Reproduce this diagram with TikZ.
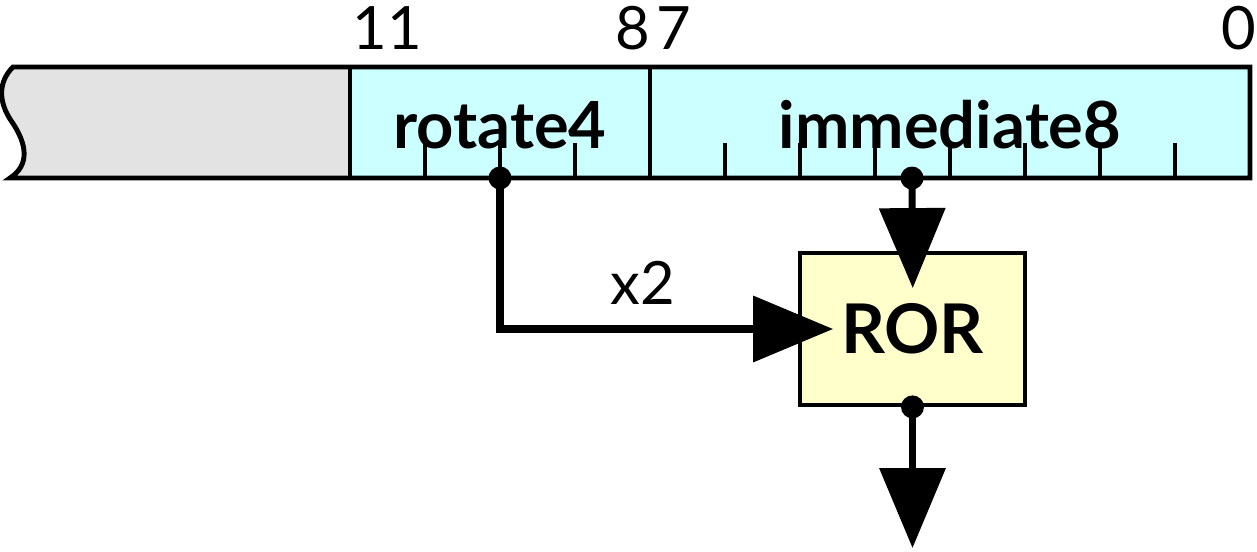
\documentclass[tikz,border=0pt]{standalone}
\usepackage{fontspec}
\setmainfont{Lato}
\usetikzlibrary{arrows.meta,positioning}
\definecolor{fieldcyan}{HTML}{CCFFFF}
\definecolor{restgray}{HTML}{E3E3E3}
\definecolor{opyellow}{HTML}{FFFFCC}
\tikzset{
  line cap=round,
  line join=round,
  outline/.style={line width=2.8pt},
  tick/.style={line width=2.2pt, line cap=butt},
  bitnum/.style={inner sep=0pt, font=\fontsize{34}{36}\selectfont},
  fieldname/.style={anchor=base, inner sep=0pt, font=\fontsize{37}{39}\selectfont\bfseries},
  opbox/.style={draw, line width=2.2pt, fill=opyellow, minimum width=4.5cm, minimum height=3.04cm, inner sep=0pt, font=\fontsize{39}{41}\selectfont\bfseries},
  dot/.style={circle, fill, inner sep=0pt, minimum size=0.46cm},
  flow/.style={line width=4pt, -{Triangle[length=1.6cm,width=1.3cm]}}
}
\begin{document}
\begin{tikzpicture}[x=0.02cm,y=-0.02cm]
  \useasboundingbox (0,0) rectangle (1257,551);

  % instruction word
  \fill[restgray] (13,67) .. controls (-2,82) and (-2,102) .. (12,122) .. controls (27,144) and (30,165) .. (10,178) -- (350,178) -- (350,67) -- cycle;
  \fill[fieldcyan] (350,67) rectangle (1250,178);
  \foreach \x in {425,500,575,725,800,...,1175}
    \draw[tick] (\x,178) -- (\x,143);
  \draw[outline] (1250,67) -- (13,67) .. controls (-2,82) and (-2,102) .. (12,122) .. controls (27,144) and (30,165) .. (10,178) -- (1250,178) -- cycle;
  \draw[outline] (350,67) -- (350,178);
  \draw[outline] (650,67) -- (650,178);

  \node[fieldname] (rotlbl) at (500,148) {rotate4};
  \node[fieldname] (immlbl) at (950,148) {immediate8};

  \node[bitnum, anchor=base west] (b11) at (352,50) {11};
  \node[bitnum, anchor=base east] (b8) at (650,50) {8};
  \node[bitnum, anchor=base west] (b7) at (656,50) {7};
  \node[bitnum, anchor=base east] (b0) at (1256,50) {0};

  % rotate unit
  \node[opbox] (ror) at (912.5,329) {ROR};
  \node[dot] (rotdot) at (500,178) {};
  \node[dot] (immdot) at (912,178) {};
  \node[dot] (rordot) at (ror.south) {};
  \coordinate (out) at (ror.south |- 0,548);

  \draw[flow, shorten >=-0.74cm] (immdot.center) -- (ror.north);
  \draw[flow, shorten >=-0.7cm] (rotdot.center) |- node[pos=0.74, above=0.5cm, bitnum, anchor=base] (x2) {x2} (ror.west);
  \draw[flow] (rordot.center) -- (out);
\end{tikzpicture}
\end{document}
